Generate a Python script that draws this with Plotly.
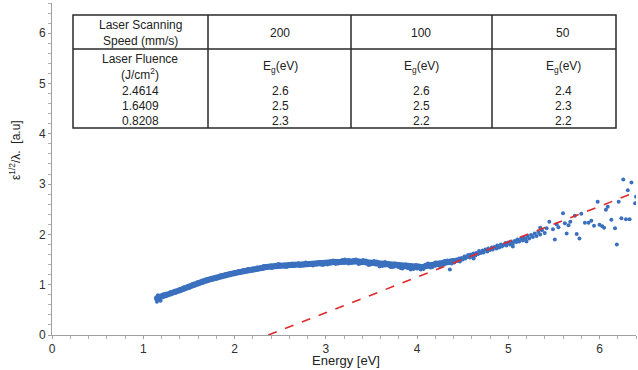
import plotly.graph_objects as go

# ---------------- data ----------------
band_x = [1.15, 1.20, 1.25, 1.30, 1.35, 1.40, 1.45, 1.50, 1.55, 1.60, 1.65, 1.70, 1.75, 1.80,
          1.85, 1.90, 1.95, 2.00, 2.05, 2.10, 2.15, 2.20, 2.25, 2.30, 2.35, 2.40, 2.45, 2.50,
          2.55, 2.60, 2.65, 2.70, 2.75, 2.80, 2.85, 2.90, 2.95, 3.00, 3.05, 3.10, 3.15, 3.20,
          3.25, 3.30, 3.35, 3.40, 3.45, 3.50, 3.55, 3.60, 3.65, 3.70, 3.75, 3.80, 3.85, 3.90,
          3.95, 4.00, 4.05, 4.10, 4.15, 4.20, 4.25, 4.30, 4.35, 4.40]
band_y = [0.73, 0.77, 0.80, 0.83, 0.86, 0.89, 0.93, 0.96, 1.00, 1.03, 1.06, 1.09, 1.12, 1.14,
          1.17, 1.19, 1.21, 1.23, 1.25, 1.27, 1.29, 1.30, 1.32, 1.33, 1.35, 1.36, 1.37, 1.38,
          1.38, 1.39, 1.39, 1.40, 1.40, 1.41, 1.41, 1.42, 1.42, 1.43, 1.44, 1.45, 1.45, 1.46,
          1.47, 1.46, 1.46, 1.45, 1.44, 1.43, 1.42, 1.41, 1.40, 1.39, 1.38, 1.37, 1.36, 1.35,
          1.35, 1.34, 1.35, 1.37, 1.39, 1.40, 1.42, 1.43, 1.45, 1.47]

scat_x = [1.15, 1.16, 1.17, 1.19, 1.22,
          2.32, 2.41, 2.48, 2.57, 2.63, 2.72, 2.78, 2.86, 2.93, 2.97, 3.02, 3.05, 3.08,
          3.11, 3.14, 3.18, 3.21, 3.25, 3.28, 3.31, 3.33, 3.36, 3.38, 3.41, 3.44, 3.47, 3.49,
          3.53, 3.56, 3.59, 3.62, 3.65, 3.68, 3.71, 3.73, 3.76, 3.79, 3.82, 3.84, 3.88, 3.91,
          3.93, 3.96, 3.99, 4.02, 4.04, 4.07, 4.10, 4.12, 4.15, 4.17, 4.20, 4.22, 4.25, 4.27,
          4.30, 4.33, 4.36, 4.38,
          4.41, 4.43, 4.44, 4.46, 4.47, 4.49, 4.50, 4.52, 4.53, 4.55, 4.56, 4.58, 4.59, 4.61,
          4.62, 4.62, 4.64, 4.65, 4.67, 4.68, 4.70, 4.72, 4.73, 4.75, 4.77, 4.78, 4.80, 4.82,
          4.83, 4.85, 4.87, 4.88, 4.90, 4.92, 4.93, 4.95, 4.97, 4.98, 5.00, 5.02, 5.03, 5.05,
          5.05, 5.07, 5.09, 5.10, 5.12, 5.14, 5.16, 5.17, 5.19, 5.20, 5.21, 5.23, 5.25, 5.27,
          5.29, 5.31, 5.33, 5.35, 5.35, 5.37, 5.40, 5.42,
          5.45, 5.49, 5.51, 5.53, 5.55, 5.60, 5.62, 5.64, 5.66, 5.68, 5.73, 5.75, 5.78, 5.80,
          5.84, 5.88, 5.91, 5.94, 5.98, 6.00, 6.03, 6.05, 6.07, 6.09, 6.13, 6.17, 6.19, 6.21,
          6.24, 6.26, 6.29, 6.31, 6.33, 6.35, 6.39, 6.40]
scat_y = [0.66, 0.79, 0.70, 0.68, 0.81,
          1.37, 1.33, 1.41, 1.35, 1.42, 1.37, 1.44, 1.38, 1.45, 1.39, 1.40, 1.46, 1.48,
          1.41, 1.42, 1.49, 1.50, 1.42, 1.43, 1.49, 1.50, 1.41, 1.42, 1.49, 1.48, 1.39, 1.40,
          1.47, 1.46, 1.36, 1.37, 1.45, 1.43, 1.35, 1.35, 1.42, 1.41, 1.33, 1.32, 1.40, 1.38,
          1.30, 1.31, 1.39, 1.38, 1.30, 1.31, 1.40, 1.42, 1.34, 1.35, 1.44, 1.44, 1.37, 1.38,
          1.47, 1.48, 1.30, 1.42,
          1.44, 1.50, 1.47, 1.52, 1.46, 1.53, 1.50, 1.56, 1.52, 1.55, 1.59, 1.54, 1.60, 1.57,
          1.62, 1.52, 1.58, 1.63, 1.61, 1.67, 1.63, 1.68, 1.64, 1.70, 1.66, 1.72, 1.69, 1.74,
          1.70, 1.75, 1.72, 1.78, 1.74, 1.80, 1.76, 1.79, 1.83, 1.78, 1.84, 1.80, 1.86, 1.82,
          1.76, 1.87, 1.85, 1.90, 1.86, 1.92, 1.88, 1.94, 1.91, 1.86, 1.97, 1.92, 1.99, 1.95,
          2.02, 1.97, 2.05, 2.00, 2.13, 2.08, 2.03, 2.12,
          2.25, 2.10, 1.90, 2.20, 2.14, 2.42, 2.22, 2.02, 2.18, 2.25, 2.37, 2.01, 1.92, 2.41,
          2.23, 2.23, 2.27, 2.17, 2.65, 2.19, 2.16, 2.13, 2.49, 2.55, 2.29, 2.12, 1.80, 2.65,
          2.32, 3.09, 2.30, 2.88, 2.30, 3.03, 2.62, 2.75]

fit_x = [2.37, 6.40]
fit_y = [0.0, 2.84]

x_ticks = [0, 1, 2, 3, 4, 5, 6]
y_ticks = [0, 1, 2, 3, 4, 5, 6]

table_header = ["Laser Scanning<br>Speed (mm/s)", "200", "100", "50"]
table_sub = ["Laser Fluence<br>(J/cm<sup>2</sup>)", "E<sub>g</sub>(eV)", "E<sub>g</sub>(eV)", "E<sub>g</sub>(eV)"]
fluence = ["2.4614", "1.6409", "0.8208"]
eg_200 = ["2.6", "2.5", "2.3"]
eg_100 = ["2.6", "2.5", "2.2"]
eg_50 = ["2.4", "2.3", "2.2"]

# ---------------- figure ----------------
BLUE = "#3a70be"
fig = go.Figure()
fig.add_trace(go.Scatter(x=band_x, y=band_y, mode="lines+markers",
                         line=dict(color=BLUE, width=6), marker=dict(color=BLUE, size=6),
                         showlegend=False, hoverinfo="skip"))
fig.add_trace(go.Scatter(x=scat_x, y=scat_y, mode="markers",
                         marker=dict(color=BLUE, size=4), showlegend=False))
fig.add_trace(go.Scatter(x=fit_x, y=fit_y, mode="lines",
                         line=dict(color="#e02a2a", width=1.6, dash="dash"), showlegend=False))

L, R, T, B = 52, 636, 3, 335
W, H = 638, 370


def pxx(p):
    return (p - L) / (R - L)


def pxy(p):
    return (B - p) / (B - T)


axis_common = dict(showgrid=False, zeroline=False, showline=True, linecolor="#a0a0a0",
                   linewidth=1, ticks="outside", ticklen=3, tickcolor="#a0a0a0",
                   tickfont=dict(family="Liberation Sans, Arial", size=12, color="#303030"),
                   minor=dict(ticks="outside", ticklen=3, tickcolor="#b0b0b0", dtick=0.2))

fig.update_layout(
    width=W, height=H, margin=dict(l=L, r=W - R, t=T, b=H - B),
    paper_bgcolor="white", plot_bgcolor="white",
    xaxis=dict(range=[0, 6.4], tickvals=x_ticks, **axis_common),
    yaxis=dict(range=[0, 6.6], tickvals=y_ticks, **axis_common),
    font=dict(family="Liberation Sans, Arial", color="#222222"),
)

shapes = []
# table frame
tx0, tx1, ty0, ty1 = 73, 616, 15, 128
col_x = [208, 351, 492]
row_y = 49
lc = "#2a2a2a"
shapes.append(dict(type="rect", xref="paper", yref="paper", x0=pxx(tx0), x1=pxx(tx1),
                   y0=pxy(ty1), y1=pxy(ty0), line=dict(color=lc, width=1.5),
                   fillcolor="white", layer="above"))
for cx in col_x:
    shapes.append(dict(type="line", xref="paper", yref="paper", x0=pxx(cx), x1=pxx(cx),
                       y0=pxy(ty1), y1=pxy(ty0), line=dict(color=lc, width=1.5)))
shapes.append(dict(type="line", xref="paper", yref="paper", x0=pxx(tx0), x1=pxx(tx1),
                   y0=pxy(row_y), y1=pxy(row_y), line=dict(color=lc, width=1.5)))
fig.update_layout(shapes=shapes)

col_centers = [140, 280, 421, 563]
ann = []
tf = dict(family="Liberation Sans, Arial", size=12, color="#222222")
for cx, txt in zip(col_centers, table_header):
    ann.append(dict(x=pxx(cx), y=pxy(33), xref="paper", yref="paper", text=txt,
                    showarrow=False, font=tf, xanchor="center", yanchor="middle"))
for cx, txt in zip(col_centers, table_sub):
    ann.append(dict(x=pxx(cx), y=pxy(67), xref="paper", yref="paper", text=txt,
                    showarrow=False, font=tf, xanchor="center", yanchor="middle"))
row_pos = [91, 106, 121]
for cx, col in zip(col_centers, [fluence, eg_200, eg_100, eg_50]):
    for ry, txt in zip(row_pos, col):
        ann.append(dict(x=pxx(cx), y=pxy(ry), xref="paper", yref="paper", text=txt,
                        showarrow=False, font=tf, xanchor="center", yanchor="middle"))

# axis titles
ann.append(dict(x=pxx(346), y=pxy(360), xref="paper", yref="paper", text="Energy [eV]",
                showarrow=False, xanchor="center", yanchor="middle", borderpad=0,
                font=dict(family="Liberation Sans, Arial", size=13, color="#222222")))
ann.append(dict(x=pxx(15), y=pxy(150), xref="paper", yref="paper",
                text="ε<sup>1/2</sup>/λ.  [a.u]", textangle=-90,
                showarrow=False, xanchor="center", yanchor="middle",
                font=dict(family="Liberation Sans, Arial", size=12, color="#222222")))
fig.update_layout(annotations=ann)

fig.write_html("out.html")
